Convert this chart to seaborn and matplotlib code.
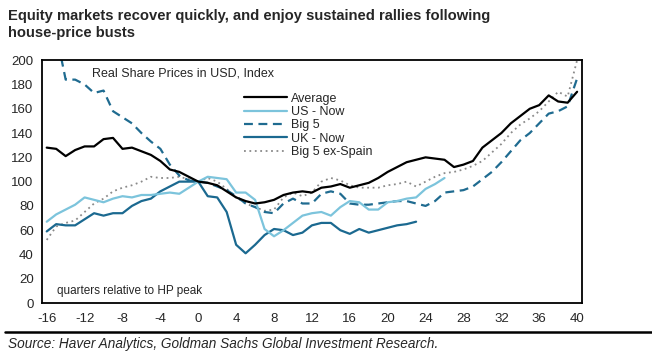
import numpy as np
import pandas as pd
import seaborn as sns
import matplotlib
matplotlib.use('Agg')
import matplotlib.pyplot as plt

# quarters relative to house-price peak
quarters = list(range(-16, 41))

average = [128, 127, 121, 126, 129, 129, 135, 136, 127, 128, 125, 122, 117, 110, 108, 104,
           100, 99, 97, 92, 87, 84, 82, 83, 85, 89, 91, 92, 91, 95, 96, 98, 95, 97, 99, 103,
           108, 112, 116, 118, 120, 119, 118, 112, 114, 117, 128, 134, 140, 148, 154, 160,
           163, 171, 166, 165, 174]

us_now = [67, 73, 77, 81, 87, 85, 83, 86, 88, 87, 89, 89, 90, 91, 90, 95,
          100, 104, 103, 102, 91, 91, 85, 61, 55, 60, 66, 72, 74, 75, 72, 79, 84, 83, 77, 77,
          83, 84, 86, 87, 94, 98, 103]

big5 = [235, 222, 184, 184, 180, 173, 175, 158, 153, 148, 140, 133, 127, 114, 105, 101,
        100, 99, 96, 93, 88, 82, 79, 75, 74, 82, 86, 82, 82, 90, 92, 90, 82, 81, 81, 82,
        83, 84, 84, 82, 80, 84, 91, 92, 93, 96, 102, 108, 116, 125, 134, 140, 148, 156,
        158, 162, 185]

uk_now = [59, 65, 64, 64, 69, 74, 72, 74, 74, 80, 84, 86, 92, 96, 100, 100,
          100, 88, 87, 75, 48, 41, 48, 56, 61, 60, 56, 58, 64, 66, 66, 60, 57, 61, 58, 60,
          62, 64, 65, 67]

big5_ex_spain = [52, 63, 66, 68, 75, 82, 86, 92, 95, 97, 100, 104, 103, 103, 104, 102,
                 100, 103, 100, 94, 87, 82, 79, 76, 77, 87, 91, 88, 91, 100, 103, 101, 97, 95,
                 95, 95, 97, 98, 100, 96, 100, 104, 107, 108, 110, 113, 117, 124, 131, 140,
                 147, 152, 158, 166, 174, 170, 200]

series_names = ['Average', 'US - Now', 'Big 5', 'UK - Now', 'Big 5 ex-Spain']

sns.set_style('white')
plt.rcParams['font.family'] = ['Liberation Sans', 'DejaVu Sans']
plt.rcParams['axes.unicode_minus'] = False

fig = plt.figure(figsize=(6.52, 3.52), dpi=100)
ax = fig.add_axes([0.0644, 0.139, 0.828, 0.690])

styles = {
    'Average': dict(color='black', linestyle='-', linewidth=1.6),
    'US - Now': dict(color='#7cc4dc', linestyle='-', linewidth=1.6),
    'Big 5': dict(color='#1f6b90', linestyle=(0, (4, 2.5)), linewidth=1.6),
    'UK - Now': dict(color='#1b6990', linestyle='-', linewidth=1.6),
    'Big 5 ex-Spain': dict(color='#8a8a8a', linestyle=(0, (1, 2)), linewidth=1.3),
}
values = {'Average': average, 'US - Now': us_now, 'Big 5': big5,
          'UK - Now': uk_now, 'Big 5 ex-Spain': big5_ex_spain}

for name in ['Big 5 ex-Spain', 'UK - Now', 'Big 5', 'US - Now', 'Average']:
    vals = values[name]
    df = pd.DataFrame({'quarter': quarters[:len(vals)], 'value': vals})
    sns.lineplot(data=df, x='quarter', y='value', ax=ax, label=name, **styles[name])

ax.set_xlim(-16.5, 40.5)
ax.set_ylim(0, 200)
ax.set_xticks(range(-16, 41, 4))
ax.set_yticks(range(0, 201, 20))
ax.set_xlabel('')
ax.set_ylabel('')
ax.tick_params(axis='both', labelsize=9.5, length=3, width=1, direction='out', color='black',
               pad=3)
ax.tick_params(axis='x', pad=4)
for sp in ax.spines.values():
    sp.set_visible(True)
    sp.set_color('black')
    sp.set_linewidth(1.3)

# legend in fixed order
handles, labels = ax.get_legend_handles_labels()
order = [labels.index(n) for n in series_names]
ax.legend([handles[i] for i in order], [labels[i] for i in order],
          loc='upper left', bbox_to_anchor=(0.375, 0.866), frameon=False,
          fontsize=9, handlelength=3.4, handletextpad=0.35, labelspacing=0.11,
          borderaxespad=0, borderpad=0)

ax.text(0.092, 0.945, 'Real Share Prices in USD, Index', transform=ax.transAxes,
        fontsize=9, va='center', ha='left')
ax.text(0.027, 0.05, 'quarters relative to HP peak', transform=ax.transAxes,
        fontsize=8.5, va='center', ha='left')

fig.text(0.012, 0.975, 'Equity markets recover quickly, and enjoy sustained rallies following\nhouse-price busts',
         fontsize=10.6, fontweight='bold', va='top', ha='left', linespacing=1.3,
         family=['Liberation Sans Narrow', 'Liberation Sans', 'DejaVu Sans'])

fig.add_artist(plt.Line2D([0.008, 1.0], [0.057, 0.057], transform=fig.transFigure,
                          color='black', linewidth=1.8))
fig.text(0.012, 0.022, 'Source: Haver Analytics, Goldman Sachs Global Investment Research.',
         fontsize=9.8, style='italic', va='center', ha='left')

fig.savefig('out.png', dpi=100)
